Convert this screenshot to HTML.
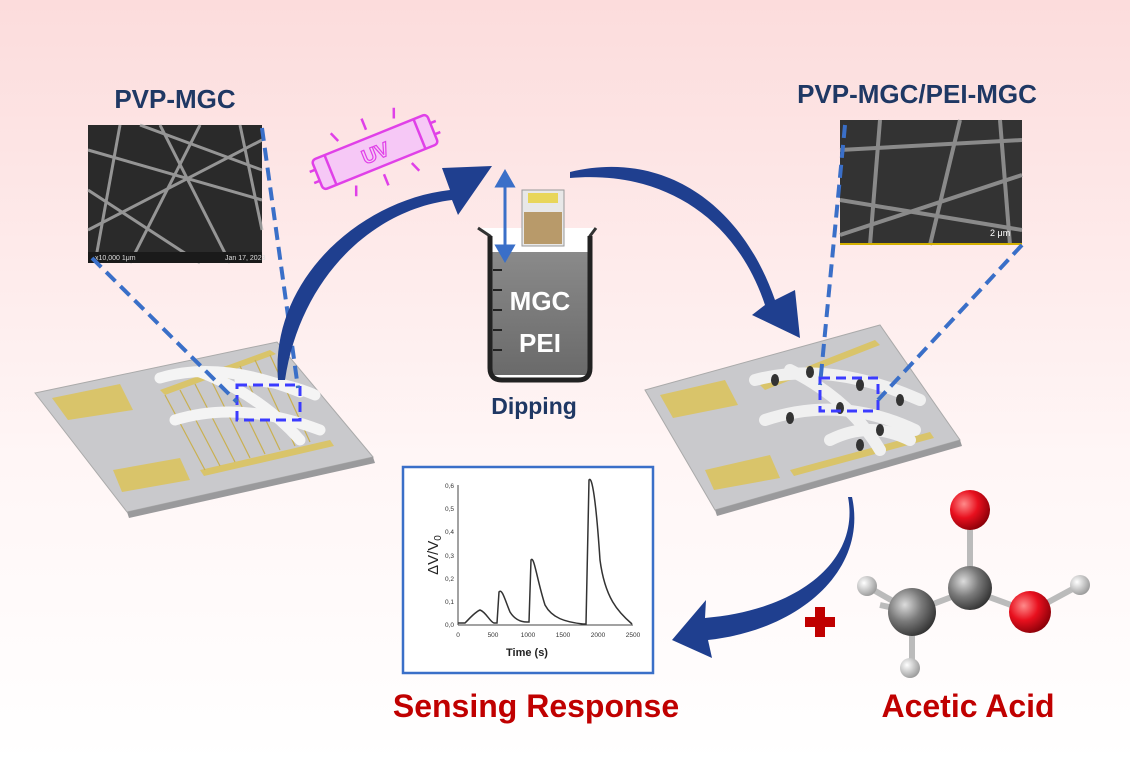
<!DOCTYPE html>
<html><head><meta charset="utf-8"><style>
body{margin:0;width:1130px;height:763px;overflow:hidden;font-family:"Liberation Sans",sans-serif}
</style></head><body>
<svg width="1130" height="763" viewBox="0 0 1130 763" xmlns="http://www.w3.org/2000/svg">
<defs>
<linearGradient id="bg" x1="0" y1="0" x2="0" y2="1">
<stop offset="0" stop-color="#fcdcdc"/><stop offset="0.6" stop-color="#fff6f6"/><stop offset="1" stop-color="#ffffff"/>
</linearGradient>
<linearGradient id="liq" x1="0" y1="0" x2="0" y2="1"><stop offset="0" stop-color="#8a8a8a"/><stop offset="1" stop-color="#6a6a6a"/></linearGradient>
<radialGradient id="red" cx="0.35" cy="0.35" r="0.7"><stop offset="0" stop-color="#ff8a8a"/><stop offset="0.5" stop-color="#e8101e"/><stop offset="1" stop-color="#8a0008"/></radialGradient>
<radialGradient id="gry" cx="0.35" cy="0.35" r="0.7"><stop offset="0" stop-color="#dcdcdc"/><stop offset="0.5" stop-color="#7a7a7a"/><stop offset="1" stop-color="#333"/></radialGradient>
<radialGradient id="wht" cx="0.35" cy="0.35" r="0.7"><stop offset="0" stop-color="#fff"/><stop offset="1" stop-color="#999"/></radialGradient>
</defs>
<rect width="1130" height="763" fill="url(#bg)"/>

<!-- titles -->
<text x="175" y="108" text-anchor="middle" font-size="26" font-weight="bold" fill="#1f3864">PVP-MGC</text>
<text x="917" y="103" text-anchor="middle" font-size="26" font-weight="bold" fill="#1f3864">PVP-MGC/PEI-MGC</text>

<!-- SEM 1 -->
<rect x="88" y="125" width="174" height="138" fill="#2a2a2a"/>
<g stroke="#b0b0b0" stroke-width="3" opacity="0.8">
<line x1="88" y1="150" x2="262" y2="200"/><line x1="120" y1="125" x2="95" y2="263"/>
<line x1="160" y1="125" x2="230" y2="263"/><line x1="88" y1="230" x2="262" y2="140"/>
<line x1="200" y1="125" x2="130" y2="263"/><line x1="240" y1="125" x2="262" y2="230"/>
<line x1="88" y1="190" x2="200" y2="263"/><line x1="140" y1="125" x2="262" y2="170"/>
</g>
<rect x="88" y="252" width="174" height="11" fill="#1a1a1a"/>
<text x="95" y="260" font-size="7" fill="#ddd">x10,000  1μm</text>
<text x="225" y="260" font-size="7" fill="#ddd">Jan 17, 2023</text>

<!-- SEM 2 -->
<rect x="840" y="120" width="182" height="125" fill="#333"/>
<g stroke="#9a9a9a" stroke-width="4" opacity="0.85">
<line x1="840" y1="150" x2="1022" y2="140"/><line x1="880" y1="120" x2="870" y2="245"/>
<line x1="840" y1="200" x2="1022" y2="230"/><line x1="960" y1="120" x2="930" y2="245"/>
<line x1="1000" y1="120" x2="1010" y2="245"/><line x1="840" y1="235" x2="1022" y2="175"/>
</g>
<rect x="840" y="243" width="182" height="2" fill="#d4b000"/>
<text x="990" y="236" font-size="9" fill="#fff">2 μm</text>

<!-- left chip -->
<polygon points="35,393 277,342 373,457 127,512" fill="#c9c9cc" stroke="#aaa"/>
<polygon points="127,512 373,457 375,463 129,518" fill="#9a9a9c"/>
<polygon points="52,398 120,384 133,410 68,420" fill="#d9c46a"/>
<polygon points="113,470 180,458 190,480 122,492" fill="#d9c46a"/>
<polygon points="160,390 270,350 276,354 165,395" fill="#d9c46a"/>
<polygon points="200,470 330,440 334,446 204,476" fill="#d9c46a"/>
<g stroke="#c9b050" stroke-width="1.2">
<line x1="165" y1="395" x2="205" y2="470"/><line x1="180" y1="390" x2="220" y2="466"/>
<line x1="195" y1="384" x2="235" y2="462"/><line x1="210" y1="378" x2="250" y2="458"/>
<line x1="225" y1="372" x2="265" y2="454"/><line x1="240" y1="366" x2="280" y2="450"/>
<line x1="255" y1="360" x2="295" y2="446"/><line x1="270" y1="355" x2="310" y2="442"/>
</g>
<g stroke="#f4f4f4" stroke-width="11" stroke-linecap="round" fill="none">
<path d="M160,378 Q220,360 300,392"/><path d="M175,420 Q240,400 320,430"/>
<path d="M200,372 Q260,395 300,440"/><path d="M240,380 Q280,380 315,395"/>
</g>
<rect x="237" y="385" width="63" height="35" fill="none" stroke="#3b3bff" stroke-width="3" stroke-dasharray="10,6"/>

<!-- right chip -->
<polygon points="645,390 880,325 960,440 715,510" fill="#c9c9cc" stroke="#aaa"/>
<polygon points="715,510 960,440 962,446 717,516" fill="#9a9a9c"/>
<polygon points="660,395 725,380 738,405 673,418" fill="#d9c46a"/>
<polygon points="705,470 770,455 780,478 714,490" fill="#d9c46a"/>
<polygon points="760,385 875,340 880,345 765,390" fill="#d9c46a"/>
<polygon points="790,470 930,432 934,438 794,476" fill="#d9c46a"/>
<g stroke="#f0f0f0" stroke-width="12" stroke-linecap="round" fill="none">
<path d="M755,380 Q830,360 920,400"/><path d="M765,420 Q840,395 915,430"/>
<path d="M790,370 Q850,400 880,450"/><path d="M830,440 Q870,420 910,440"/>
</g>
<g fill="#333"><ellipse cx="775" cy="380" rx="4" ry="6"/><ellipse cx="810" cy="372" rx="4" ry="6"/><ellipse cx="860" cy="385" rx="4" ry="6"/><ellipse cx="900" cy="400" rx="4" ry="6"/><ellipse cx="790" cy="418" rx="4" ry="6"/><ellipse cx="840" cy="408" rx="4" ry="6"/><ellipse cx="880" cy="430" rx="4" ry="6"/><ellipse cx="860" cy="445" rx="4" ry="6"/></g>
<rect x="820" y="378" width="58" height="33" fill="none" stroke="#3b3bff" stroke-width="3" stroke-dasharray="10,6"/>

<!-- dashed projection lines -->
<g stroke="#3a6fc8" stroke-width="4" stroke-dasharray="13,7" fill="none">
<line x1="92" y1="258" x2="237" y2="402"/><line x1="262" y1="128" x2="298" y2="388"/>
<line x1="845" y1="125" x2="820" y2="385"/><line x1="1022" y1="245" x2="878" y2="400"/>
</g>

<!-- UV lamp -->
<g transform="translate(375,152) rotate(-22)" fill="none" stroke="#e040e8" stroke-width="2.5">
<rect x="-62" y="-16" width="124" height="32" rx="4" fill="#f6c8f6"/>
<line x1="-48" y1="-16" x2="-48" y2="16"/><line x1="48" y1="-16" x2="48" y2="16"/>
<line x1="-68" y1="-6" x2="-62" y2="-6"/><line x1="-68" y1="6" x2="-62" y2="6"/>
<line x1="62" y1="-6" x2="68" y2="-6"/><line x1="62" y1="6" x2="68" y2="6"/>
<line x1="-30" y1="-24" x2="-34" y2="-34"/><line x1="0" y1="-24" x2="0" y2="-36"/><line x1="30" y1="-24" x2="34" y2="-34"/>
<line x1="-30" y1="24" x2="-34" y2="34"/><line x1="0" y1="24" x2="0" y2="36"/><line x1="30" y1="24" x2="34" y2="34"/>
<text x="0" y="8" text-anchor="middle" font-size="20" font-weight="bold" fill="#f6c8f6" stroke="#e040e8" stroke-width="1.2">UV</text>
</g>

<!-- curved arrows -->
<path d="M278,380 C270,280 360,200 450,190 L442,168 L492,166 L458,215 L452,200 C370,210 300,280 285,380 Z" fill="#1f3f8f"/>
<path d="M570,172 C660,150 740,200 775,300 L795,290 L800,338 L752,315 L765,305 C735,215 660,170 570,178 Z" fill="#1f3f8f"/>
<path d="M848,497 C860,560 800,610 705,618 L706,600 L672,640 L712,658 L708,640 C800,630 868,570 852,497 Z" fill="#1f3f8f"/>

<!-- beaker -->
<path d="M478,228 L490,236 L490,368 Q490,380 502,380 L578,380 Q590,380 590,368 L590,236 L596,228" fill="#fff" stroke="#333" stroke-width="3"/>
<rect x="490" y="252" width="100" height="123" fill="url(#liq)"/>
<path d="M490,236 L490,368 Q490,380 502,380 L578,380 Q590,380 590,368 L590,236" fill="none" stroke="#222" stroke-width="5"/>
<g stroke="#222" stroke-width="2"><line x1="493" y1="270" x2="502" y2="270"/><line x1="493" y1="290" x2="502" y2="290"/><line x1="493" y1="310" x2="502" y2="310"/><line x1="493" y1="330" x2="502" y2="330"/><line x1="493" y1="350" x2="502" y2="350"/></g>
<text x="540" y="310" text-anchor="middle" font-size="26" font-weight="bold" fill="#fff">MGC</text>
<text x="540" y="352" text-anchor="middle" font-size="26" font-weight="bold" fill="#fff">PEI</text>
<rect x="522" y="190" width="42" height="56" fill="#e8e8e8" stroke="#999"/>
<rect x="528" y="193" width="30" height="10" fill="#e8d65a"/>
<rect x="524" y="212" width="38" height="32" fill="#b89a6a"/>
<text x="534" y="414" text-anchor="middle" font-size="23" font-weight="bold" fill="#1f3864">Dipping</text>
<g fill="#3a6fc8" stroke="#3a6fc8" stroke-width="3"><line x1="505" y1="185" x2="505" y2="248"/><polygon points="497,186 505,172 513,186"/><polygon points="497,246 505,260 513,246"/></g>

<!-- chart box -->
<rect x="403" y="467" width="250" height="206" fill="#fff" stroke="#3a6fc8" stroke-width="2.5"/>
<g font-size="6.5" fill="#333" text-anchor="end">
<text x="454" y="488">0,6</text><text x="454" y="511">0,5</text><text x="454" y="534">0,4</text><text x="454" y="558">0,3</text><text x="454" y="581">0,2</text><text x="454" y="604">0,1</text><text x="454" y="627">0,0</text>
</g>
<g font-size="6.5" fill="#333" text-anchor="middle">
<text x="458" y="637">0</text><text x="493" y="637">500</text><text x="528" y="637">1000</text><text x="563" y="637">1500</text><text x="598" y="637">2000</text><text x="633" y="637">2500</text>
</g>
<line x1="458" y1="485" x2="458" y2="625" stroke="#444"/><line x1="458" y1="625" x2="633" y2="625" stroke="#444"/>
<text x="527" y="656" text-anchor="middle" font-size="11" font-weight="bold" fill="#222">Time (s)</text>
<text transform="translate(438,555) rotate(-90)" text-anchor="middle" font-size="15" fill="#222">ΔV/V<tspan font-size="10" dy="3">0</tspan></text>
<path d="M458,623 L465,623 C470,618 475,612 480,610 C486,612 490,622 494,623 L497,623 L499,592 C502,588 505,600 510,612 C515,620 522,622 527,622 L529,622 L531,560 C534,555 537,580 545,605 C552,618 565,622 583,624 L586,624 L589,480 C592,475 596,500 600,560 C605,598 618,612 632,624" fill="none" stroke="#333" stroke-width="1.5"/>

<!-- bottom labels -->
<text x="536" y="717" text-anchor="middle" font-size="32" font-weight="bold" fill="#c00000">Sensing Response</text>
<text x="968" y="717" text-anchor="middle" font-size="32" font-weight="bold" fill="#c00000">Acetic Acid</text>

<!-- plus -->
<g fill="#c00000"><rect x="805" y="617" width="30" height="10"/><rect x="815" y="607" width="10" height="30"/></g>

<!-- molecule -->
<g stroke="#bbb" stroke-width="6">
<line x1="970" y1="510" x2="970" y2="585"/><line x1="970" y1="590" x2="912" y2="612"/><line x1="970" y1="590" x2="1030" y2="612"/>
<line x1="1030" y1="612" x2="1080" y2="585"/><line x1="912" y1="612" x2="870" y2="588"/><line x1="912" y1="612" x2="880" y2="605"/><line x1="912" y1="612" x2="912" y2="668"/>
</g>
<circle cx="970" cy="510" r="20" fill="url(#red)"/>
<circle cx="970" cy="588" r="22" fill="url(#gry)"/>
<circle cx="1030" cy="612" r="21" fill="url(#red)"/>
<circle cx="1080" cy="585" r="10" fill="url(#wht)"/>
<circle cx="867" cy="586" r="10" fill="url(#wht)"/>
<circle cx="912" cy="612" r="24" fill="url(#gry)"/>
<circle cx="910" cy="668" r="10" fill="url(#wht)"/>
</svg>
</body></html>
